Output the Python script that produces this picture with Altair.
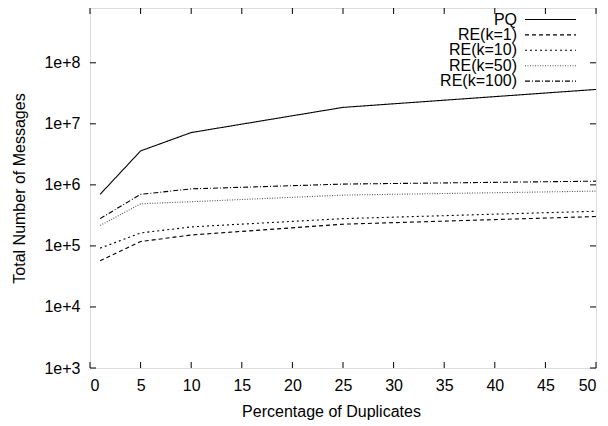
import altair as alt
import pandas as pd

# ---- data ----
x_pct = [1, 5, 10, 25, 50]
series_names = ["PQ", "RE(k=1)", "RE(k=10)", "RE(k=50)", "RE(k=100)"]
pq = [7.0e5, 3.6e6, 7.2e6, 1.86e7, 3.66e7]
re_k1 = [5.7e4, 1.18e5, 1.51e5, 2.27e5, 3.03e5]
re_k10 = [9.2e4, 1.63e5, 2.05e5, 2.8e5, 3.7e5]
re_k50 = [2.16e5, 4.9e5, 5.3e5, 6.8e5, 7.9e5]
re_k100 = [2.8e5, 7.0e5, 8.6e5, 1.03e6, 1.15e6]
x_ticks = [0, 5, 10, 15, 20, 25, 30, 35, 40, 45, 50]
y_ticks = [1e3, 1e4, 1e5, 1e6, 1e7, 1e8]

all_series = [pq, re_k1, re_k10, re_k50, re_k100]
rows = []
for name, vals in zip(series_names, all_series):
    for x, v in zip(x_pct, vals):
        rows.append({"series": name, "pct": x, "msgs": v})
df = pd.DataFrame(rows)

# ---- styles ----
W, H = 506, 360
FONT = "Liberation Sans"
FS = 16
dashes = [[1, 0], [4, 3], [2, 3], [1, 1.5], [5, 2, 1, 2]]
colors = ["#000000", "#000000", "#000000", "#555555", "#000000"]

xscale = alt.Scale(domain=[0, 50], nice=False, zero=False)
yscale = alt.Scale(type="log", domain=[1e3, 7.9e8], nice=False)

lines = alt.Chart(df).mark_line(strokeWidth=1.1, clip=True).encode(
    x=alt.X("pct:Q", scale=xscale,
            axis=alt.Axis(values=x_ticks, title="Percentage of Duplicates",
                          ticks=False, domain=False, grid=False,
                          labelFont=FONT, labelFontSize=FS, labelColor="black",
                          labelPadding=9, titleFont=FONT, titleFontSize=FS,
                          titleFontWeight="normal", titleColor="black",
                          titlePadding=10, titleX=241)),
    y=alt.Y("msgs:Q", scale=yscale,
            axis=alt.Axis(values=y_ticks, title="Total Number of Messages",
                          ticks=False, domain=False, grid=False,
                          labelExpr="'1e+' + round(log(datum.value)/LN10)",
                          labelFont=FONT, labelFontSize=FS, labelColor="black",
                          labelPadding=10, titleFont=FONT, titleFontSize=FS,
                          titleFontWeight="normal", titleColor="black",
                          titlePadding=16)),
    color=alt.Color("series:N", scale=alt.Scale(domain=series_names, range=colors), legend=None),
    strokeDash=alt.StrokeDash("series:N", scale=alt.Scale(domain=series_names, range=dashes), legend=None),
    detail="series:N",
)

# inward tick marks on all four sides
xt = pd.DataFrame({"v": x_ticks})
yt = pd.DataFrame({"v": y_ticks})
TL = 6
tick_layers = [
    alt.Chart(xt).mark_rule(color="black", strokeWidth=1).encode(
        x=alt.X("v:Q", scale=xscale), y=alt.value(H), y2=alt.value(H - TL)),
    alt.Chart(xt).mark_rule(color="black", strokeWidth=1).encode(
        x=alt.X("v:Q", scale=xscale), y=alt.value(0), y2=alt.value(TL)),
    alt.Chart(yt).mark_rule(color="black", strokeWidth=1).encode(
        y=alt.Y("v:Q", scale=yscale), x=alt.value(0), x2=alt.value(TL)),
    alt.Chart(yt).mark_rule(color="black", strokeWidth=1).encode(
        y=alt.Y("v:Q", scale=yscale), x=alt.value(W), x2=alt.value(W - TL)),
]

# legend (top right, inside the plot)
legend_layers = []
for i, name in enumerate(series_names):
    ly = 11.5 + i * 15.4
    ldf = pd.DataFrame({"series": [name]})
    legend_layers.append(
        alt.Chart(ldf).mark_text(align="right", baseline="middle", font=FONT,
                                 fontSize=FS, color="black").encode(
            text="series:N", x=alt.value(427), y=alt.value(ly)))
    legend_layers.append(
        alt.Chart(ldf).mark_rule(strokeWidth=1.1, color=colors[i],
                                 strokeDash=dashes[i]).encode(
            x=alt.value(435), x2=alt.value(486), y=alt.value(ly)))

chart = alt.layer(lines, *tick_layers, *legend_layers).properties(
    width=W, height=H,
    autosize=alt.AutoSizeParams(type="none"),
    padding={"left": 82, "top": 0, "right": 4, "bottom": 52},
).configure_view(stroke="black", strokeWidth=1.5).configure(background="white")

chart.save("out.html", embed_options={"renderer": "svg", "actions": False})
